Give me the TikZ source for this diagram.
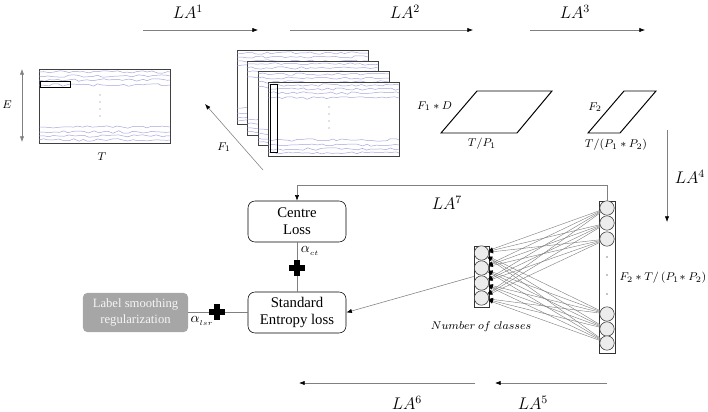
\documentclass[tikz,border=0pt]{standalone}
\usepackage{fontspec}
\setmainfont{Liberation Serif}
\usetikzlibrary{arrows.meta,decorations.pathmorphing}
\definecolor{wavecol}{RGB}{165,165,222}
\definecolor{boxgray}{RGB}{166,166,166}

\begin{document}
\begin{tikzpicture}[x = 0.025cm, y = -0.025cm,
    flow/.style = {draw=gray, -{Latex[black, length=4pt, width=3pt]}},
    wave/.style = {draw=wavecol, line width=0.35pt, decorate,
                   decoration={random steps, segment length=3.5pt, amplitude=0.9pt}},
    mat/.style = {draw=black!75, fill=white, line width=0.6pt},
    loss/.style = {draw, rounded corners=5pt, minimum width=2.45cm, minimum height=1.025cm,
                   align=center, font=\fontsize{10.5}{12}\selectfont},
    neuron/.style = {circle, draw=black!80, fill=gray!15, minimum size=0.36cm, inner sep=0pt},
    lbl/.style = {font=\footnotesize},
    la/.style = {font=\large},
    plus/.pic = {\fill (-8,-2.7) rectangle (8,2.7); \fill (-2.7,-8) rectangle (2.7,8);}]
    \pgfmathsetseed{7}
    \useasboundingbox (0, 0) rectangle (708, 412);

    % input matrix E x T
    \draw[mat] (39, 69) rectangle (170, 143);
    \foreach \d in {3,7,11,16}
       {\draw[wave] (39, 69+\d) -- (170, 69+\d);
        \draw[wave] (39, 143-\d) -- (170, 143-\d);}
    \draw[line width=0.6pt] (40, 81) rectangle (70, 87);
    \foreach \d in {0,...,3}
       \fill[gray] (100, 95+7*\d) circle (0.5pt);
    \coordinate (etop) at (22, 69);
    \coordinate (ebot) at (22, 142);
    \draw[{Latex[length=4pt, width=3pt]}-{Latex[length=4pt, width=3pt]}, draw=gray] (etop) -- (ebot);
    \node[lbl] (E) at (7, 105) {$E$};
    \node[lbl] (T) at (102, 157) {$T$};

    % feature maps after LA1
    \foreach \x/\y in {237/50, 247/61, 258/71, 268/82}
       {\draw[mat] (\x, \y) rectangle (\x+131, \y+74);
        \foreach \d in {3,7,11,16}
           {\draw[wave] (\x, \y+\d) -- (\x+131, \y+\d);
            \draw[wave] (\x, \y+74-\d) -- (\x+131, \y+74-\d);}}
    \draw[line width=0.6pt] (270, 84) rectangle (277, 152);
    \foreach \d in {0,...,3}
       \fill[gray] (329, 107+7*\d) circle (0.5pt);
    \coordinate (f1s) at (263, 170);
    \coordinate (f1e) at (205, 104);
    \draw[flow] (f1s) -- (f1e);
    \node[lbl] (F1) at (224, 147) {$F_1$};

    % parallelograms
    \draw[line width=0.7pt] (441, 133) -- (517, 133) -- (552, 91) -- (477, 91) -- cycle;
    \node[lbl, anchor=east] (F1D) at (457, 106) {$F_1 \ast D$};
    \node[lbl] (TP1) at (482, 144) {$T/P_1$};
    \draw[line width=0.7pt] (588, 133) -- (620, 133) -- (656, 91) -- (624, 91) -- cycle;
    \node[lbl] (F2) at (595, 107) {$F_2$};
    \node[lbl] (TP12) at (616, 145) {$T/(P_1 \ast P_2)$};

    % LA arrows
    \foreach \n/\xa/\xb/\xl in {1/143/258/188, 2/290/473/405, 3/530/645/575}
       {\draw[flow] (\xa, 30) -- (\xb, 30);
        \node[la] (la\n) at (\xl, 12) {$LA^{\n}$};}
    \draw[flow] (667, 130) -- (667, 222);
    \node[la] (la4) at (690, 177) {$LA^4$};
    \draw[flow] (607, 383) -- (495, 383);
    \node[la] (la5) at (533, 403) {$LA^5$};
    \draw[flow] (475, 383) -- (299, 383);
    \node[la] (la6) at (407, 403) {$LA^6$};
    \node[la] (la7) at (447, 203) {$LA^7$};

    % fully connected layers
    \node[draw=black!80, minimum width=0.4cm, minimum height=3.8cm, inner sep=0pt] (bigcol) at (607, 277) {};
    \foreach \i/\y in {1/208, 2/223, 3/239, 4/314, 5/329, 6/343}
       \node[neuron] (b\i) at (607, \y) {};
    \foreach \y in {257, 275, 294}
       \fill (607, \y) circle (0.5pt);
    \node[draw=black!80, minimum width=0.375cm, minimum height=1.525cm, inner sep=0pt] (outcol) at (481.5, 276.5) {};
    \foreach \j/\y in {1/253, 2/268, 3/283, 4/298}
       \node[neuron] (s\j) at (481.5, \y) {};
    \foreach \i in {1,...,6}
    \foreach \j in {1,...,4}
       \draw[draw=gray, line width=0.3pt, -{Latex[black, length=3pt, width=2.5pt]}] (b\i) -- (s\j);
    \node[lbl] (ncls) at (481, 327) {$Number\ of\ classes$};
    \node[lbl] (fcdim) at (663, 278) {$F_2 \ast T/\,(P_1\!\ast P_2)$};

    % losses
    \node[loss] (centre) at (297, 221.5) {Centre\\Loss};
    \node[loss] (standard) at (297, 312.5) {Standard\\Entropy loss};
    \node[fill=boxgray, rounded corners=3pt, minimum width=2.625cm, minimum height=0.975cm,
          align=center, text=gray!8, font=\fontsize{9}{11}\selectfont] (lsr) at (135.5, 312.5)
          {Label smoothing\\regularization};
    \coordinate (fb) at (297, 185);
    \draw[flow] (bigcol.north) |- (fb) -- (centre.north);
    \draw[draw=gray] (centre.south) -- (standard.north);
    \draw[draw=gray] (lsr.east) -- (standard.west);
    \draw[flow] (outcol.west) -- (standard.east);
    \pic at (297, 268) {plus};
    \pic at (217, 312) {plus};
    \node[font=\normalsize] (act) at (310, 251) {$\alpha_{\scriptscriptstyle ct}$};
    \node[font=\normalsize] (alsr) at (202, 321) {$\alpha_{\scriptscriptstyle lsr}$};

  \end{tikzpicture}
\end{document}
